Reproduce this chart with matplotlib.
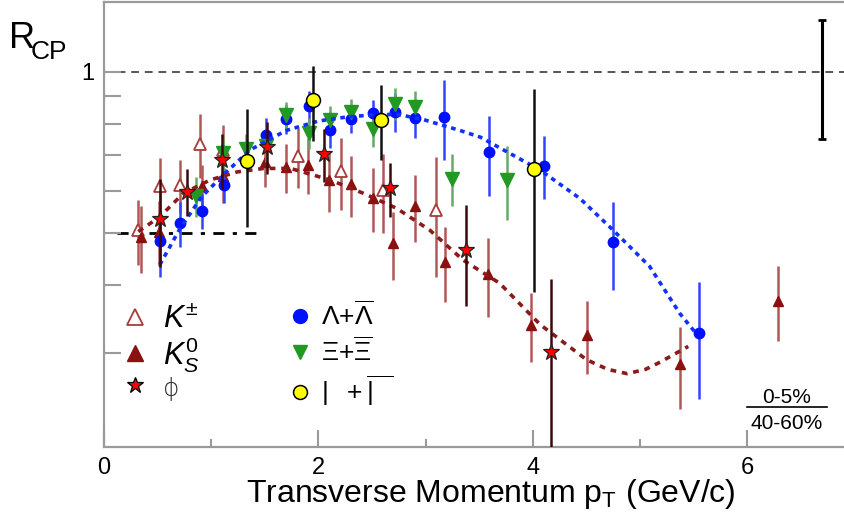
import matplotlib
matplotlib.use("Agg")
import matplotlib.pyplot as plt
from matplotlib.lines import Line2D
from matplotlib.ticker import FixedLocator, NullFormatter, FixedFormatter

plt.rcParams['font.family'] = ['Liberation Sans', 'DejaVu Sans']
plt.rcParams['mathtext.fontset'] = 'custom'
plt.rcParams['mathtext.rm'] = 'Liberation Sans'
plt.rcParams['mathtext.it'] = 'Liberation Sans:italic'

# ---- measured R_CP values (pT in GeV/c) ----
kpm_pt = [0.32, 0.52, 0.71, 0.90, 1.11, 1.81, 2.21, 2.60, 3.10]
kpm_r = [0.507, 0.612, 0.615, 0.735, 0.715, 0.697, 0.654, 0.602, 0.554]
kpm_err = [0.07, 0.08, 0.07, 0.10, 0.08, 0.09, 0.10, 0.10, 0.14]

k0s_pt = [0.345, 0.516, 0.911, 1.107, 1.50, 1.70, 1.906, 2.10, 2.30, 2.51,
          2.70, 2.90, 3.18, 3.58, 3.98, 4.51, 5.37, 6.29]
k0s_r = [0.492, 0.504, 0.612, 0.640, 0.680, 0.665, 0.672, 0.629, 0.617, 0.583,
         0.479, 0.562, 0.443, 0.420, 0.338, 0.324, 0.285, 0.375]
k0s_err = [0.07, 0.07, 0.06, 0.07, 0.07, 0.07, 0.08, 0.08, 0.08, 0.08,
           0.07, 0.08, 0.07, 0.07, 0.05, 0.05, 0.05, 0.06]

phi_pt = [0.52, 0.77, 1.10, 1.52, 2.05, 2.67, 3.38, 4.17]
phi_r = [0.533, 0.598, 0.685, 0.725, 0.703, 0.607, 0.466, 0.301]
phi_err = [0.10, 0.06, 0.08, 0.08, 0.08, 0.07, 0.10, 0.11]

lam_pt = [0.52, 0.71, 0.91, 1.12, 1.51, 1.70, 1.91, 2.11, 2.30, 2.51, 2.71,
          2.90, 3.17, 3.59, 4.10, 4.75, 5.55]
lam_r = [0.484, 0.522, 0.551, 0.616, 0.763, 0.816, 0.863, 0.781, 0.818, 0.838,
         0.842, 0.822, 0.824, 0.708, 0.669, 0.482, 0.326]
lam_err = [0.07, 0.05, 0.042, 0.047, 0.058, 0.05, 0.06, 0.06, 0.05, 0.05, 0.07,
           0.07, 0.14, 0.12, 0.09, 0.09, 0.08]

xi_pt = [0.86, 1.11, 1.32, 1.51, 1.70, 1.91, 2.11, 2.30, 2.51, 2.71, 2.90, 3.25, 3.76]
xi_r = [0.587, 0.705, 0.717, 0.728, 0.830, 0.769, 0.815, 0.842, 0.784, 0.873,
        0.860, 0.633, 0.629]
xi_err = [0.05, 0.05, 0.05, 0.05, 0.05, 0.05, 0.05, 0.05, 0.06, 0.06, 0.06, 0.07, 0.10]

omega_pt = [1.33, 1.95, 2.58, 4.01]
omega_r = [0.683, 0.885, 0.815, 0.659]
omega_err = [0.17, 0.14, 0.13, 0.27]

# trend curves for baryons and mesons
baryon_pt = [0.52, 0.71, 0.91, 1.11, 1.36, 1.70, 2.00, 2.26, 2.55, 2.75, 2.98, 3.32,
             3.51, 4.07, 4.44, 4.75, 5.09, 5.37, 5.51]
baryon_r = [0.437, 0.511, 0.585, 0.642, 0.715, 0.778, 0.810, 0.824, 0.833, 0.833,
            0.815, 0.778, 0.756, 0.656, 0.581, 0.507, 0.434, 0.355, 0.328]
meson_pt = [0.32, 0.52, 0.74, 0.99, 1.24, 1.49, 1.74, 2.11, 2.42, 2.73, 3.04, 3.35,
            3.69, 4.07, 4.50, 4.70, 4.88, 5.05, 5.19, 5.45]
meson_r = [0.504, 0.537, 0.594, 0.629, 0.651, 0.661, 0.661, 0.629, 0.594, 0.557,
           0.507, 0.446, 0.404, 0.338, 0.291, 0.279, 0.274, 0.279, 0.288, 0.308]

# reference lines
unity = 1.0
npart_level = 0.5
npart_range = [0.12, 1.47]
norm_pt = 6.70
norm_err = 0.25

fig = plt.figure(figsize=(8.44, 5.22), dpi=100)
ax = fig.add_axes([104 / 844, 75 / 522, 7 * 107.2 / 844, 445 / 522])
ax.set_yscale('log')
ax.set_xlim(0, 7)
ax.set_ylim(0.2, 1.35)

grey = '#9a9a9a'
for side in ['left', 'bottom', 'top']:
    ax.spines[side].set_color(grey)
    ax.spines[side].set_linewidth(1.6)
ax.spines['right'].set_visible(False)

ax.axhline(unity, color='#555555', lw=1.4, ls=(0, (4, 3)), zorder=1)
ax.plot(npart_range, [npart_level, npart_level], color='black', lw=2,
        ls=(0, (4, 3, 1.5, 3)), zorder=1)
ax.errorbar([norm_pt], [unity], yerr=[norm_err], fmt='none', ecolor='black',
            elinewidth=2.2, capsize=3, capthick=2, zorder=2)

kcol = '#8b1010'
kbar = '#b05858'
ax.errorbar(kpm_pt, kpm_r, yerr=kpm_err, fmt='^', mfc='white', mec='#a83a3a',
            mew=1.3, ms=8.5, ecolor=kbar, elinewidth=1.8, zorder=3)
ax.errorbar(k0s_pt, k0s_r, yerr=k0s_err, fmt='^', color=kcol, ms=7.5,
            ecolor=kbar, elinewidth=1.8, zorder=3)
ax.errorbar(lam_pt, lam_r, yerr=lam_err, fmt='o', color='#0010ff', ms=7.5,
            ecolor='#3344ff', elinewidth=1.8, zorder=4)
ax.errorbar(xi_pt, xi_r, yerr=xi_err, fmt='v', color='#229922', ms=9.5,
            ecolor='#66aa66', elinewidth=1.8, zorder=4)

ax.plot(baryon_pt, baryon_r, color='#1030ff', lw=2.6, ls=(0, (1.3, 1.3)), zorder=5)
ax.plot(meson_pt, meson_r, color='#8b1a1a', lw=2.6, ls=(0, (1.6, 1.6)), zorder=5)

ax.errorbar(phi_pt, phi_r, yerr=phi_err, fmt='*', mfc='red', mec='#222222',
            mew=0.9, ms=12, ecolor='#3a0a0a', elinewidth=1.8, zorder=6)
ax.errorbar(omega_pt, omega_r, yerr=omega_err, fmt='o', mfc='#ffff00', mec='black',
            mew=1.1, ms=10, ecolor='#111111', elinewidth=1.8, zorder=7)

# axes ticks
ax.xaxis.set_major_locator(FixedLocator([0, 2, 4, 6]))
ax.xaxis.set_minor_locator(FixedLocator([1, 3, 5]))
ax.yaxis.set_major_locator(FixedLocator([1.0]))
ax.yaxis.set_major_formatter(FixedFormatter(['1']))
ax.yaxis.set_minor_locator(FixedLocator([0.3, 0.4, 0.5, 0.6, 0.7, 0.8, 0.9]))
ax.yaxis.set_minor_formatter(NullFormatter())
ax.tick_params(which='both', direction='in', colors=grey, labelcolor='black',
               labelsize=17, width=1.5)
ax.tick_params(axis='y', which='both', length=12, pad=7)
ax.tick_params(axis='x', which='major', length=12, pad=7)
ax.tick_params(axis='x', which='minor', length=6)
ax.tick_params(top=False, right=False, which='both')

ax.set_xlabel('Transverse Momentum p$_\\mathrm{T}$ (GeV/c)', fontsize=23,
              labelpad=-1, x=0.515)
fig.text(9 / 844, 1 - 48 / 522, 'R', fontsize=26, ha='left', va='baseline')
fig.text(31 / 844, 1 - 59 / 522, 'CP', fontsize=19, ha='left', va='baseline')

fig.text(787 / 844, 1 - 403 / 522, '0-5%', fontsize=15, ha='center', va='baseline')
fig.text(787 / 844, 1 - 429 / 522, '40-60%', fontsize=15, ha='center', va='baseline')
fig.add_artist(Line2D([747 / 844, 827 / 844], [1 - 407 / 522, 1 - 407 / 522],
                      color='black', lw=1.2))

# legends
h_kpm = Line2D([], [], ls='none', marker='^', mfc='white', mec='#a83a3a', mew=1.3, ms=11)
h_k0s = Line2D([], [], ls='none', marker='^', color=kcol, ms=12)
h_phi = Line2D([], [], ls='none', marker='*', mfc='red', mec='black', mew=0.9, ms=12)
h_lam = Line2D([], [], ls='none', marker='o', color='#0010ff', ms=10)
h_xi = Line2D([], [], ls='none', marker='v', color='#229922', ms=10)
h_om = Line2D([], [], ls='none', marker='o', mfc='#ffff00', mec='black', mew=1.1, ms=10)

leg1 = ax.legend([h_kpm, h_k0s, h_phi],
                 [r'$K^{\pm}$', r'$K^{\mathit{0}}_{S}$', 'ϕ'],
                 loc='upper left', bbox_to_anchor=(0.001, 0.354), frameon=False,
                 fontsize=22, handlelength=1.0, handletextpad=0.4, labelspacing=0.0,
                 borderpad=0)
phi_txt = leg1.get_texts()[2]
phi_txt.set_fontsize(18)
phi_txt.set_color('#333333')
phi_txt.set_family(['DejaVu Sans'])
phi_txt.set_fontweight('light')
ax.add_artist(leg1)
leg2 = ax.legend([h_lam, h_xi, h_om],
                 [r'$\Lambda$+$\overline{\Lambda}$', r'$\Xi$+$\overline{\Xi}$',
                  r'$|\ \ +\overline{|\ \ \,}$'],
                 loc='upper left', bbox_to_anchor=(0.222, 0.357), frameon=False,
                 fontsize=19, handlelength=1.2, handletextpad=0.2, labelspacing=0.28,
                 borderpad=0)

fig.savefig('out.png', dpi=100)
